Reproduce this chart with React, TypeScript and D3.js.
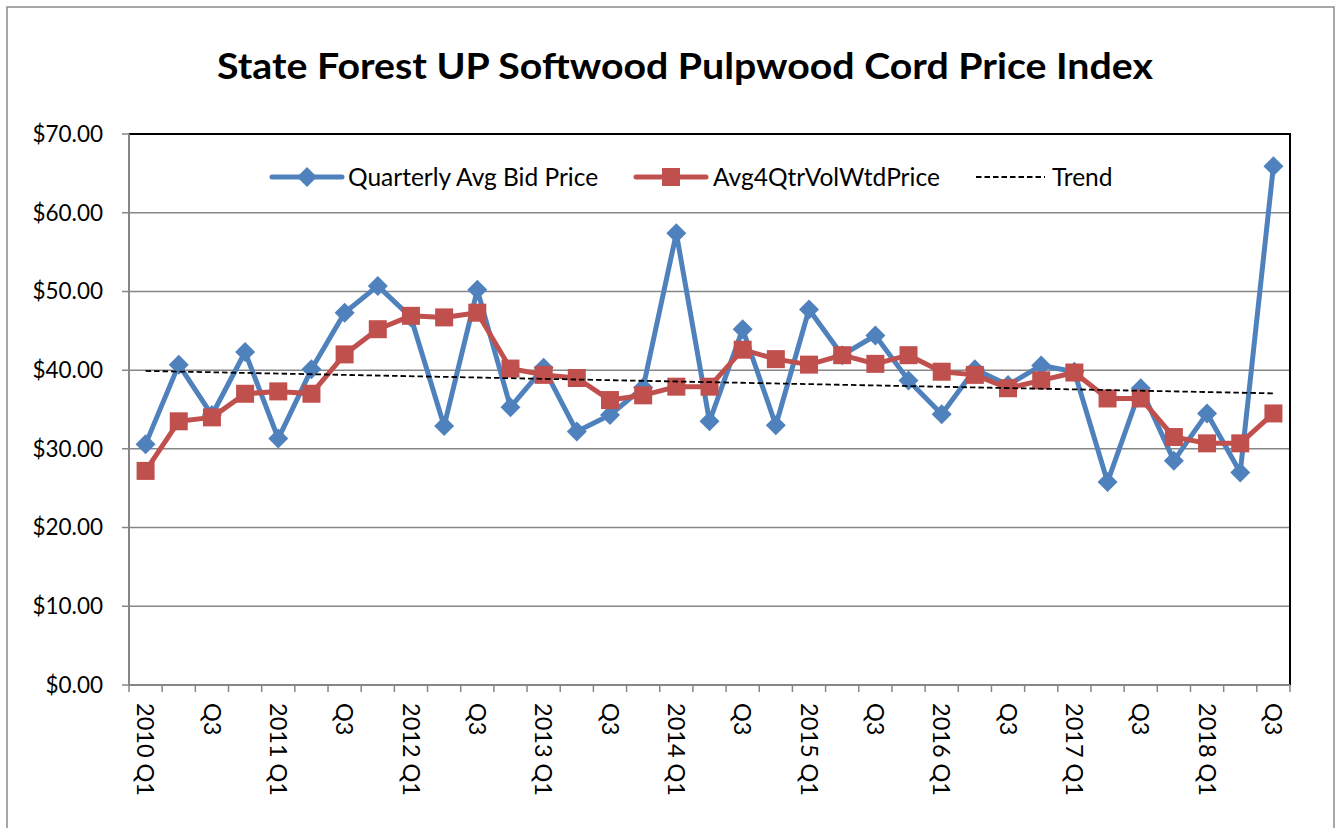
import React from "react";
import * as d3 from "d3";

const years = [2010, 2011, 2012, 2013, 2014, 2015, 2016, 2017, 2018];
const categories: string[] = [];
years.forEach((yr) => {
  for (let q = 1; q <= 4; q++) {
    if (yr === 2018 && q === 4) continue;
    categories.push(`${yr} Q${q}`);
  }
});

const bidPrice = [
  30.6, 40.7, 34.3, 42.3, 31.3, 40.1, 47.3, 50.7, 46.7, 32.9,
  50.2, 35.3, 40.3, 32.2, 34.3, 37.8, 57.4, 33.5, 45.2, 33.0,
  47.7, 41.9, 44.4, 38.7, 34.4, 40.1, 38.1, 40.6, 39.8, 25.8,
  37.7, 28.5, 34.5, 27.0, 65.9,
];

const volWtdPrice = [
  27.2, 33.5, 34.0, 37.0, 37.3, 37.0, 42.0, 45.2, 46.9, 46.7,
  47.3, 40.2, 39.4, 39.0, 36.2, 36.8, 37.9, 37.9, 42.6, 41.4,
  40.7, 41.9, 40.8, 41.9, 39.8, 39.4, 37.7, 38.7, 39.7, 36.4,
  36.4, 31.5, 30.7, 30.7, 34.5,
];

const trendEnds = [39.9, 37.05];

const yTicks = [0, 10, 20, 30, 40, 50, 60, 70];

const tickLabel = (c: string, i: number) => {
  if (i % 2 !== 0) return "";
  return c.endsWith("Q1") ? c : "Q3";
};

const FONT = "Lato, 'Open Sans', sans-serif";
const BLUE = "#4F81BD";
const RED = "#C0504D";
const GRID = "#868686";

export default function App() {
  const left = 129, right = 1290, top = 134, bottom = 685;
  const x = d3.scaleBand<string>().domain(categories).range([left, right]).padding(0);
  const cx = (c: string) => (x(c) as number) + x.bandwidth() / 2;
  const y = d3.scaleLinear().domain([0, 70]).range([bottom, top]);
  const fmt = (v: number) => "$" + d3.format(".2f")(v);

  const line = d3
    .line<number>()
    .x((_, i) => cx(categories[i]))
    .y((d) => y(d));

  const dia = (px: number, py: number, r: number) =>
    `M${px},${py - r}L${px + r},${py}L${px},${py + r}L${px - r},${py}Z`;
  const sq = 9;
  const dr = 10;

  const boundaries = d3.range(categories.length + 1).map((i) => left + i * x.bandwidth());

  const legY = 177;
  const legFs = 24.5;

  return (
    <svg
      width={1335}
      height={828}
      style={{ position: "absolute", left: 0, top: 0, background: "#fff" }}
      fontFamily={FONT}
    >
      <rect x={7} y={7} width={1327} height={840} fill="#fff" stroke="#8c8c8c" strokeWidth={1.5} />
      <text
        x={217}
        y={79}
        fontSize={36}
        fontWeight="bold"
        fill="#000"
        textLength={936}
        lengthAdjust="spacingAndGlyphs"
      >
        State Forest UP Softwood Pulpwood Cord Price Index
      </text>

      {/* gridlines */}
      {yTicks.map((t) => (
        <line key={"g" + t} x1={left - 7} x2={right} y1={y(t)} y2={y(t)} stroke={GRID} strokeWidth={1.5} />
      ))}
      {/* plot border top/right */}
      <line x1={left} x2={right + 1} y1={top} y2={top} stroke="#000" strokeWidth={2} />
      <line x1={right} x2={right} y1={top} y2={bottom} stroke="#000" strokeWidth={2} />
      {/* axes */}
      <line x1={left} x2={left} y1={top} y2={bottom} stroke={GRID} strokeWidth={2} />
      <line x1={left} x2={right} y1={bottom} y2={bottom} stroke={GRID} strokeWidth={2} />
      {boundaries.map((bx, i) => (
        <line key={"t" + i} x1={bx} x2={bx} y1={bottom} y2={bottom + 7} stroke={GRID} strokeWidth={1.5} />
      ))}

      {/* y labels */}
      {yTicks.map((t) => (
        <text key={"yl" + t} x={103} y={y(t)} dy="0.35em" textAnchor="end" fontSize={22.5} fill="#000">
          {fmt(t)}
        </text>
      ))}

      {/* x labels */}
      {categories.map((c, i) => {
        const lab = tickLabel(c, i);
        if (!lab) return null;
        return (
          <text
            key={"xl" + i}
            transform={`translate(${cx(c)},${703}) rotate(90)`}
            dy="0.35em"
            fontSize={23.5}
            fill="#000"
          >
            {lab}
          </text>
        );
      })}

      {/* series */}
      <path d={line(bidPrice) || ""} fill="none" stroke={BLUE} strokeWidth={5} strokeLinejoin="round" />
      {bidPrice.map((v, i) => (
        <path key={"d" + i} d={dia(cx(categories[i]), y(v), dr)} fill={BLUE} />
      ))}
      <path d={line(volWtdPrice) || ""} fill="none" stroke={RED} strokeWidth={5} strokeLinejoin="round" />
      {volWtdPrice.map((v, i) => (
        <rect key={"s" + i} x={cx(categories[i]) - sq} y={y(v) - sq} width={sq * 2} height={sq * 2} fill={RED} />
      ))}
      <line
        x1={cx(categories[0])}
        x2={cx(categories[categories.length - 1])}
        y1={y(trendEnds[0])}
        y2={y(trendEnds[1])}
        stroke="#000"
        strokeWidth={1.8}
        strokeDasharray="5.5,3"
      />

      {/* legend */}
      <line x1={272} x2={342} y1={legY} y2={legY} stroke={BLUE} strokeWidth={5} strokeLinecap="round" />
      <path d={dia(307, legY, dr)} fill={BLUE} />
      <text x={348} y={legY} dy="0.35em" fontSize={legFs} fill="#000">Quarterly Avg Bid Price</text>

      <line x1={636} x2={706} y1={legY} y2={legY} stroke={RED} strokeWidth={5} strokeLinecap="round" />
      <rect x={671 - sq} y={legY - sq} width={sq * 2} height={sq * 2} fill={RED} />
      <text x={713} y={legY} dy="0.35em" fontSize={legFs} fill="#000">Avg4QtrVolWtdPrice</text>

      <line x1={976} x2={1045} y1={legY} y2={legY} stroke="#000" strokeWidth={1.8} strokeDasharray="5.5,3" />
      <text x={1052} y={legY} dy="0.35em" fontSize={legFs} fill="#000">Trend</text>
    </svg>
  );
}
